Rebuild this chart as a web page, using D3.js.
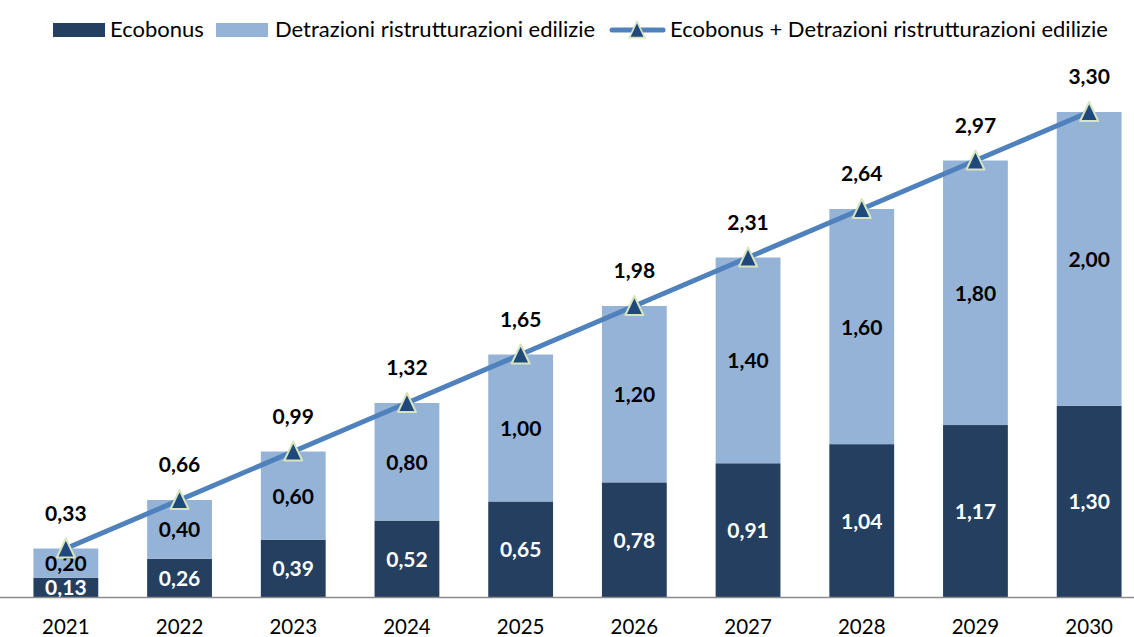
<!DOCTYPE html>
<html><head><meta charset="utf-8">
<script src="https://cdn.jsdelivr.net/npm/d3@7/dist/d3.min.js"></script>
<style>body{margin:0;background:#fff}svg{display:block}</style>
</head><body>
<svg id="c" width="1134" height="637"></svg>
<script>
const years = ["2021","2022","2023","2024","2025","2026","2027","2028","2029","2030"];
const ecobonus = [0.13,0.26,0.39,0.52,0.65,0.78,0.91,1.04,1.17,1.30];
const detrazioni = [0.20,0.40,0.60,0.80,1.00,1.20,1.40,1.60,1.80,2.00];
const totals = [0.33,0.66,0.99,1.32,1.65,1.98,2.31,2.64,2.97,3.30];
const seriesNames = ["Ecobonus","Detrazioni ristrutturazioni edilizie","Ecobonus + Detrazioni ristrutturazioni edilizie"];

const C_DARK="#243F60", C_LIGHT="#95B3D7", C_LINE="#4F81BD", C_MARK="#1F497D", C_MARKS="#D7E4BD";
const FONT="Lato, 'Open Sans', sans-serif";
const svg=d3.select("#c");
const fmt=v=>v.toFixed(2).replace(".",",");

const x=d3.scaleBand().domain(years).range([9,1146]).paddingInner(0.43).paddingOuter(0.215);
const y=d3.scaleLinear().domain([0,3.30]).range([597,112]);
const bw=x.bandwidth();
const cx=d=>x(d)+bw/2;

const g=svg.append("g");
g.selectAll(".d").data(years).join("rect")
 .attr("x",d=>x(d)).attr("width",bw)
 .attr("y",(d,i)=>y(ecobonus[i])).attr("height",(d,i)=>y(0)-y(ecobonus[i]))
 .attr("fill",C_DARK);
g.selectAll(".l").data(years).join("rect")
 .attr("x",d=>x(d)).attr("width",bw)
 .attr("y",(d,i)=>y(ecobonus[i]+detrazioni[i])).attr("height",(d,i)=>y(ecobonus[i])-y(ecobonus[i]+detrazioni[i]))
 .attr("fill",C_LIGHT);

const ax=svg.append("g").attr("transform","translate(0,597)").call(d3.axisBottom(x).tickSize(0).tickPadding(22));
ax.select(".domain").remove();
svg.append("line").attr("x1",0).attr("x2",1134).attr("y1",597.5).attr("y2",597.5).attr("stroke","#8c8c8c").attr("stroke-width",1.5);
ax.selectAll("text").attr("font-family",FONT).attr("font-size",20.5).attr("fill","#000");

const LF=21;
g.selectAll(".dl").data(years).join("text")
 .attr("x",cx).attr("y",(d,i)=>(y(0)+y(ecobonus[i]))/2+8)
 .attr("text-anchor","middle").attr("font-family",FONT).attr("font-weight","bold").attr("font-size",LF).attr("fill","#fff")
 .text((d,i)=>fmt(ecobonus[i]));
g.selectAll(".ll").data(years).join("text")
 .attr("x",cx).attr("y",(d,i)=>(y(ecobonus[i])+y(ecobonus[i]+detrazioni[i]))/2+8)
 .attr("text-anchor","middle").attr("font-family",FONT).attr("font-weight","bold").attr("font-size",LF).attr("fill","#000")
 .text((d,i)=>fmt(detrazioni[i]));

const line=d3.line().x((d,i)=>cx(years[i])).y(d=>y(d));
svg.append("path").datum(totals).attr("d",line).attr("fill","none").attr("stroke",C_LINE).attr("stroke-width",5);
const triPath="M0,-10L9,9L-9,9Z";
svg.selectAll(".m").data(totals).join("path")
 .attr("transform",(d,i)=>`translate(${cx(years[i])},${y(d)})`)
 .attr("d",triPath).attr("fill",C_MARK).attr("stroke",C_MARKS).attr("stroke-width",2).attr("stroke-linejoin","round");
svg.selectAll(".tl").data(totals).join("text")
 .attr("x",(d,i)=>cx(years[i])).attr("y",d=>y(d)-28)
 .attr("text-anchor","middle").attr("font-family",FONT).attr("font-weight","bold").attr("font-size",LF).attr("fill","#000")
 .text(d=>fmt(d));

const lg=svg.append("g").attr("font-family",FONT).attr("font-size",22).attr("fill","#000");
lg.append("rect").attr("x",53).attr("y",23).attr("width",52).attr("height",14).attr("fill",C_DARK);
lg.append("text").attr("x",110).attr("y",37).text(seriesNames[0]);
lg.append("rect").attr("x",216).attr("y",23).attr("width",52).attr("height",14).attr("fill",C_LIGHT);
lg.append("text").attr("x",275).attr("y",37).text(seriesNames[1]);
lg.append("line").attr("x1",612).attr("x2",663).attr("y1",30).attr("y2",30).attr("stroke",C_LINE).attr("stroke-width",5).attr("stroke-linecap","round");
lg.append("path").attr("transform","translate(637,30) scale(0.85)").attr("d",triPath).attr("fill",C_MARK).attr("stroke",C_MARKS).attr("stroke-width",2);
lg.append("text").attr("x",670).attr("y",37).text(seriesNames[2]);
</script>
</body></html>
